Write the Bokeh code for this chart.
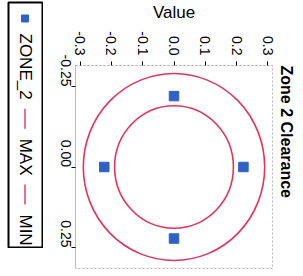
import math
from bokeh.plotting import figure
from bokeh.models import Range1d, FixedTicker, Title, ColumnDataSource, NumeralTickFormatter
from bokeh.layouts import row, column
from bokeh.core.properties import value
from bokeh.embed import file_html
from bokeh.resources import INLINE

# ---- data ----
series_names = ["ZONE_2", "MAX", "MIN"]
series_colors = ["#2f62c6", "#e2335c", "#e2335c"]
series_kinds = ["square", "line", "line"]
zone_value = [0.0, -0.223, 0.222, 0.0]
zone_offset = [-0.22, 0.0, 0.0, 0.222]
ring_names = ["MAX", "MIN"]
ring_radius = [0.29, 0.19]
value_ticks = [-0.3, -0.2, -0.1, 0.0, 0.1, 0.2, 0.3]
offset_ticks = [-0.25, 0.0, 0.25]

FONT = "Liberation Sans"
GRID_GREY = "#b4b4b4"

# ---- main plot ----
p = figure(frame_width=197, frame_height=203, output_backend="svg", toolbar_location=None,
           x_axis_location="above", x_range=Range1d(-0.315, 0.315),
           y_range=Range1d(0.315, -0.315),
           min_border_left=32, min_border_top=10, min_border_right=5, min_border_bottom=1)
p.grid.visible = False
p.outline_line_color = GRID_GREY
p.outline_line_dash = "2 2"
p.outline_line_width = 1

ring_src = ColumnDataSource(dict(x=[0.0] * len(ring_radius), y=[0.0] * len(ring_radius),
                                 w=[2 * r for r in ring_radius], h=[2 * r for r in ring_radius],
                                 name=ring_names))
p.ellipse(x="x", y="y", width="w", height="h", source=ring_src, fill_color=None,
          line_color=series_colors[1], line_width=1.6)
p.scatter(x=zone_value, y=zone_offset, marker="square", size=9.5,
          fill_color=series_colors[0], line_color=series_colors[0])

xa = p.xaxis[0]
xa.ticker = FixedTicker(ticks=value_ticks)
xa.formatter = NumeralTickFormatter(format="0.0")
xa.axis_label = "Value"
xa.axis_label_text_font = FONT
xa.axis_label_text_font_size = "17px"
xa.axis_label_text_font_style = "normal"
xa.axis_label_text_color = "black"
xa.axis_label_standoff = 6
ya = p.yaxis[0]
ya.ticker = FixedTicker(ticks=offset_ticks)
ya.formatter = NumeralTickFormatter(format="0.00")
for ax in (xa, ya):
    ax.major_label_orientation = -math.pi / 2
    ax.major_label_text_font = FONT
    ax.major_label_text_font_size = "14px"
    ax.major_label_text_color = "black"
    ax.major_label_standoff = 6
    ax.axis_line_color = GRID_GREY
    ax.axis_line_dash = "2 2"
    ax.major_tick_in = 0
    ax.major_tick_out = 4
    ax.major_tick_line_color = "black"
    ax.minor_tick_line_color = None

t = Title(text="Zone 2 Clearance", text_font=FONT, text_font_size="16px",
          text_font_style="bold", align="left", text_color="black")
p.add_layout(t, "right")

# ---- legend (rotated, drawn as its own panel) ----
LEG_FONT_PX = 17
CHAR_EM = {"Z": .611, "O": .778, "N": .722, "E": .667, "_": .556, "2": .556,
           "M": .833, "A": .667, "X": .667, "I": .278}
leg = figure(frame_width=35, frame_height=246, output_backend="svg", toolbar_location=None,
             x_range=Range1d(0, 35), y_range=Range1d(246, 0),
             min_border_left=8, min_border_right=0, min_border_top=2, min_border_bottom=0)
leg.axis.visible = False
leg.grid.visible = False
leg.outline_line_color = "black"
leg.outline_line_width = 2

cx = 16.5
cursor = 11.0
for name, color, kind in zip(series_names, series_colors, series_kinds):
    if kind == "square":
        glen = 10
        leg.scatter(x=[cx], y=[cursor + glen / 2], marker="square", size=7,
                    fill_color=color, line_color=color)
    else:
        glen = 20
        leg.line(x=[cx, cx], y=[cursor, cursor + glen], line_color=color, line_width=1.4)
    cursor += glen + 10
    leg.text(x=[cx], y=[cursor], text=[name], angle=-math.pi / 2, text_align="left",
             text_baseline="middle", text_font=value(FONT),
             text_font_size=f"{LEG_FONT_PX}px", text_color="black")
    cursor += sum(CHAR_EM.get(ch, 0.6) for ch in name) * LEG_FONT_PX + 9

layout = row(column(leg), p)
open("out.html", "w").write(file_html(layout, INLINE))
